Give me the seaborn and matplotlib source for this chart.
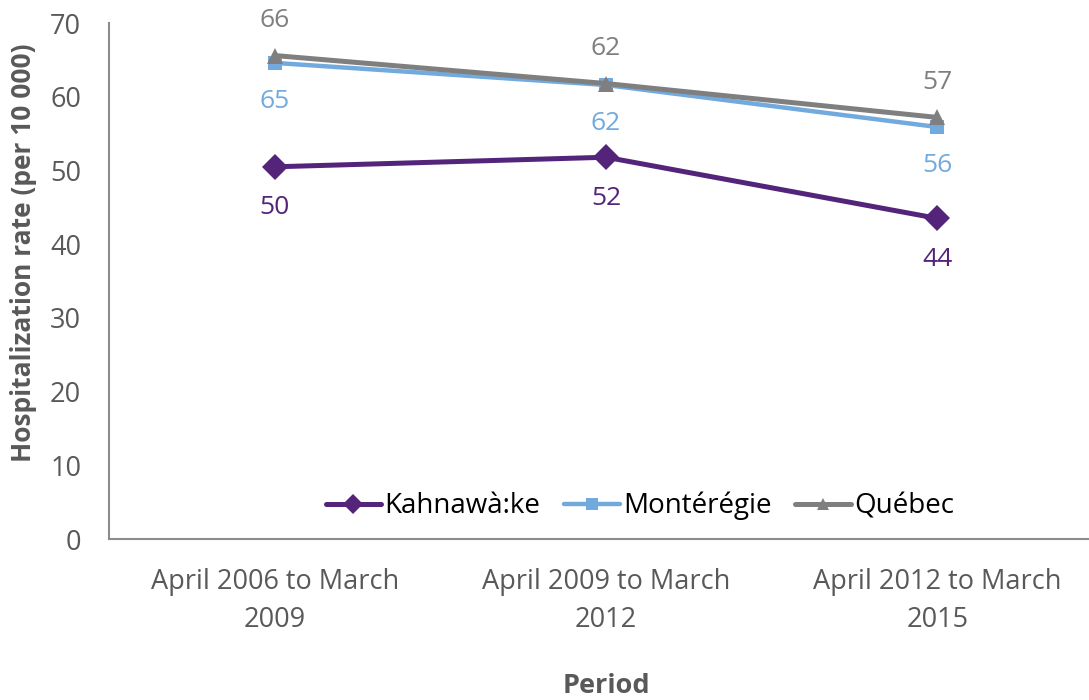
import matplotlib
matplotlib.use("Agg")
import matplotlib.pyplot as plt
import seaborn as sns
import pandas as pd

periods = ["April 2006 to March\n2009", "April 2009 to March\n2012", "April 2012 to March\n2015"]
kahnawake = [50.5, 51.8, 43.5]
monteregie = [64.6, 61.6, 55.9]
quebec = [65.6, 61.8, 57.2]
series_names = ["Kahnawà:ke", "Montérégie", "Québec"]
yticks = [0, 10, 20, 30, 40, 50, 60, 70]

sns.set_theme(style="white")
plt.rcParams["font.family"] = ["Open Sans", "DejaVu Sans"]

colors = {"Kahnawà:ke": "#53247A", "Montérégie": "#72AADE", "Québec": "#7F7F7F"}
markers = {"Kahnawà:ke": "D", "Montérégie": "s", "Québec": "^"}
msizes = {"Kahnawà:ke": 13, "Montérégie": 10, "Québec": 11}
lws = {"Kahnawà:ke": 3.6, "Montérégie": 3.2, "Québec": 3.6}

fig = plt.figure(figsize=(10.89, 7.0), dpi=100)
ax = fig.add_axes([0.1001, 0.23, 0.9128, 0.737])

vals = {"Kahnawà:ke": kahnawake, "Montérégie": monteregie, "Québec": quebec}
for name in ["Montérégie", "Québec", "Kahnawà:ke"]:
    df = pd.DataFrame({"x": list(range(len(periods))), "y": vals[name]})
    sns.lineplot(data=df, x="x", y="y", ax=ax, color=colors[name], marker=markers[name],
                 markersize=msizes[name], linewidth=lws[name], markeredgewidth=0,
                 label=name, sort=False, zorder=3 if name == "Kahnawà:ke" else 2)

# data labels
lab_fs = 19
for i in range(len(periods)):
    ax.annotate(f"{quebec[i]:.0f}", (i, quebec[i]), xytext=(0, 25.5), textcoords="offset points",
                ha="center", va="center", color="#7F7F7F", fontsize=lab_fs)
    ax.annotate(f"{monteregie[i]:.0f}", (i, monteregie[i]), xytext=(0, -27.5), textcoords="offset points",
                ha="center", va="center", color="#72AADE", fontsize=lab_fs)
    ax.annotate(f"{kahnawake[i]:.0f}", (i, kahnawake[i]), xytext=(0, -29.5), textcoords="offset points",
                ha="center", va="center", color="#53247A", fontsize=lab_fs)

ax.set_xlim(-0.5, 2.5)
ax.set_ylim(0, 70)
ax.set_yticks(yticks)
ax.set_xticks(range(len(periods)))
ax.set_xticklabels(periods, linespacing=1.45)
ax.tick_params(axis="both", colors="#595959", labelsize=19.5, length=0)
ax.tick_params(axis="x", pad=21)
ax.tick_params(axis="y", pad=20)

for s in ["top", "right"]:
    ax.spines[s].set_visible(False)
for s in ["left", "bottom"]:
    ax.spines[s].set_color("#8C8C8C")
    ax.spines[s].set_linewidth(1.5)

ax.set_xlabel("Period", fontsize=19.5, fontweight="bold", color="#595959", labelpad=28)
ax.set_ylabel("Hospitalization rate (per 10 000)", fontsize=19, fontweight="bold", color="#595959")
ax.yaxis.set_label_coords(-0.072, 0.554)

h, l = ax.get_legend_handles_labels()
order = [l.index(n) for n in series_names]
leg = ax.legend([h[i] for i in order], [l[i] for i in order], loc="center",
                bbox_to_anchor=(0.534, 0.064), ncol=3, frameon=False, fontsize=20,
                handlelength=2.0, handletextpad=0.12, columnspacing=0.85, markerscale=0.8)
for t in leg.get_texts():
    t.set_color("#000000")

fig.savefig("out.png", dpi=100)
